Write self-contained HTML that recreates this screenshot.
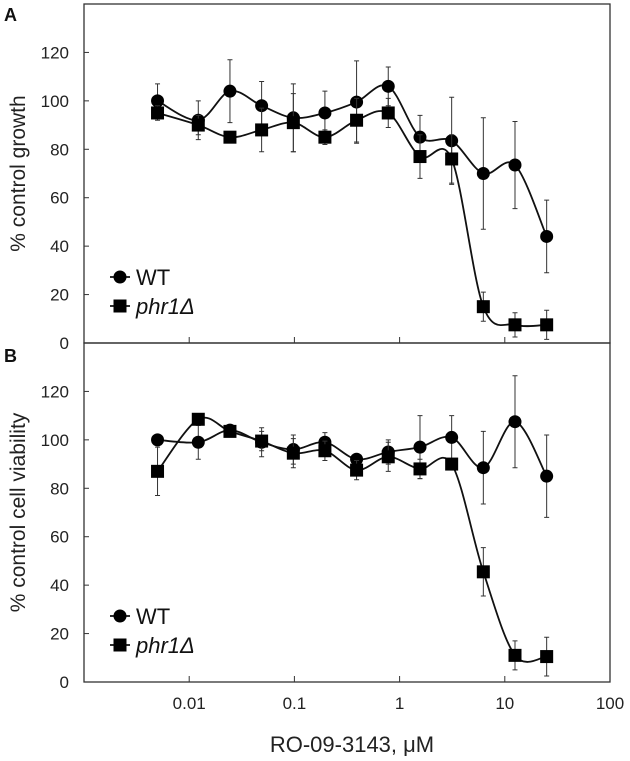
<!DOCTYPE html>
<html><head><meta charset="utf-8"><style>
body{margin:0;background:#fff;}
svg{display:block;font-family:"Liberation Sans",Arial,sans-serif;}
</style></head><body>
<svg id="chart" width="630" height="761"></svg>
<script>
const concentrations=[0.005,0.0122,0.0244,0.0488,0.0977,0.195,0.39,0.78,1.5625,3.125,6.25,12.5,25];
const aWT=[100,92,104,98,93,95,99.5,106,85,83.5,70,73.5,44];
const aWTerr=[7,8,13,10,14,9,17,8,9,18,23,18,15];
const aPhr=[95,90,85,88,91,85,92,95,77,76,15,7.5,7.5];
const aPhrErr=[3,4,2,9,12,3,9,6,9,10,6,5,6];
const bWT=[100,99,104,99,96,99,92,95,97,101,88.5,107.5,85];
const bWTerr=[2,7,2,6,6,4,2,5,13,9,15,19,17];
const bPhr=[87,108.5,103.5,99.5,94.5,95.5,87.5,93,88,90,45.5,11,10.5];
const bPhrErr=[10,2,2,4,6,4,4,6,4,2,10,6,8];
const xTicks=[0.01,0.1,1,10,100];
const xTickLabels=["0.01","0.1","1","10","100"];
const yTicks=[0,20,40,60,80,100,120];

const svg=document.getElementById('chart');
const NS='http://www.w3.org/2000/svg';
function mk(tag,attrs,parent){const e=document.createElementNS(NS,tag);for(const k in attrs)e.setAttribute(k,attrs[k]);(parent||svg).appendChild(e);return e;}
const L=84,R=610;
function xs(v){return L+(Math.log10(v)+3)*(R-L)/5;}
function panel(top,bottom,wt,wte,ph,phe,title,letter,id){
  const ys=v=>bottom-(v/140)*(bottom-top);
  const g=mk('g',{});
  
  
  const box=mk('rect',{x:L,y:top,width:R-L,height:bottom-top,fill:'none',stroke:'#333','stroke-width':1.3},g);
  
  
  yTicks.forEach(t=>{
    mk('line',{x1:L,x2:L+5,y1:ys(t),y2:ys(t),stroke:'#333'},g);
    const tx=mk('text',{x:69,y:ys(t)+6,'text-anchor':'end','font-size':17,fill:'#222'},g);
    tx.textContent=t;
    
    
  });
  xTicks.forEach(t=>{mk('line',{x1:xs(t),x2:xs(t),y1:bottom,y2:bottom-6,stroke:'#333'},g);});
  const yt=mk('text',{x:0,y:0,transform:`translate(25,${(top+bottom)/2}) rotate(-90)`,'text-anchor':'middle','font-size':21,fill:'#222'},g);
  yt.textContent=title;
  
  
  const lt=mk('text',{x:4,y:top+(id==='a'?17:19),'font-size':18,'font-weight':'bold',fill:'#111'},g);
  lt.textContent=letter;
  
  
  function series(vals,errs,shape,name){
    const pts=vals.map((v,i)=>[xs(concentrations[i]),ys(v)]);
    let d='M'+pts[0][0]+','+pts[0][1];
    for(let i=0;i<pts.length-1;i++){
      const p0=pts[Math.max(0,i-1)],p1=pts[i],p2=pts[i+1],p3=pts[Math.min(pts.length-1,i+2)];
      const k=1/6;
      d+=` C${p1[0]+(p2[0]-p0[0])*k},${p1[1]+(p2[1]-p0[1])*k} ${p2[0]-(p3[0]-p1[0])*k},${p2[1]-(p3[1]-p1[1])*k} ${p2[0]},${p2[1]}`;
    }
    const ln=mk('path',{d:d,fill:'none',stroke:'#111','stroke-width':1.8},g);
    
    
    pts.forEach((p,i)=>{
      const e=errs[i],y1=ys(vals[i]+e),y2=ys(vals[i]-e);
      const eb=mk('path',{d:`M${p[0]},${y1}V${y2}M${p[0]-2.5},${y1}H${p[0]+2.5}M${p[0]-2.5},${y2}H${p[0]+2.5}`,stroke:'#333','stroke-width':1,fill:'none'},g);
      
      
      let m;
      if(shape==='c')m=mk('circle',{cx:p[0],cy:p[1],r:6.5,fill:'#000'},g);
      else m=mk('rect',{x:p[0]-6.5,y:p[1]-6.5,width:13,height:13,fill:'#000'},g);
      
      
    });
  }
  series(wt,wte,'c','wt-'+id);
  series(ph,phe,'s','phr1-'+id);
  const ly1=bottom-66,ly2=bottom-37;
  const lg=mk('g',{},g);
  
  
  mk('line',{x1:110,x2:130,y1:ly1,y2:ly1,stroke:'#111','stroke-width':1.8},lg);
  mk('circle',{cx:120,cy:ly1,r:6.5,fill:'#000'},lg);
  const t1=mk('text',{x:136,y:ly1+8,'font-size':22,fill:'#111'},lg);t1.textContent='WT';
  
  
  mk('line',{x1:110,x2:130,y1:ly2,y2:ly2,stroke:'#111','stroke-width':1.8},lg);
  mk('rect',{x:113.5,y:ly2-6.5,width:13,height:13,fill:'#000'},lg);
  const t2=mk('text',{x:136,y:ly2+8,'font-size':22,fill:'#111','font-style':'italic'},lg);t2.textContent='phr1Δ';
  
  
}
panel(4,343,aWT,aWTerr,aPhr,aPhrErr,'% control growth','A','a');
panel(343,682,bWT,bWTerr,bPhr,bPhrErr,'% control cell viability','B','b');
xTicks.forEach((t,i)=>{
  const tx=mk('text',{x:xs(t),y:709,'text-anchor':'middle','font-size':17,fill:'#222'});
  tx.textContent=xTickLabels[i];
  
  
});
const xt=mk('text',{x:352,y:752,'text-anchor':'middle','font-size':22,fill:'#222'});
xt.textContent='RO-09-3143, μM';


</script>
</body></html>
